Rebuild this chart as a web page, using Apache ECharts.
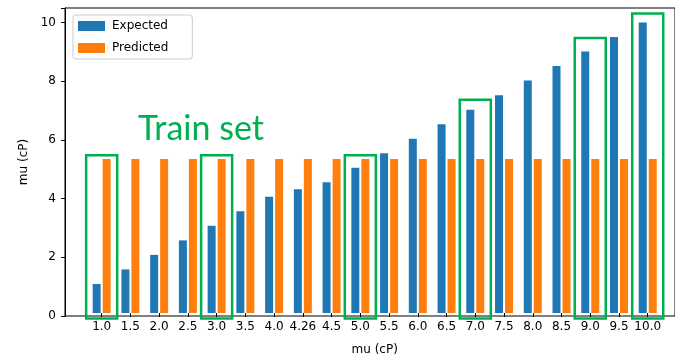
<!DOCTYPE html>
<html>
<head>
<meta charset="utf-8">
<script src="https://cdn.jsdelivr.net/npm/echarts@6/dist/echarts.min.js"></script>
<style>
html,body{margin:0;padding:0;background:#fff;}
#chart{width:675px;height:361px;}
</style>
</head>
<body>
<div id="chart"></div>
<script>
const categories = ['1.0','1.5','2.0','2.5','3.0','3.5','4.0','4.26','4.5','5.0','5.5','6.0','6.5','7.0','7.5','8.0','8.5','9.0','9.5','10.0'];
const expected = [1.0,1.5,2.0,2.5,3.0,3.5,4.0,4.26,4.5,5.0,5.5,6.0,6.5,7.0,7.5,8.0,8.5,9.0,9.5,10.0];
const predicted = [5.3,5.3,5.3,5.3,5.3,5.3,5.3,5.3,5.3,5.3,5.3,5.3,5.3,5.3,5.3,5.3,5.3,5.3,5.3,5.3];
const yTicks = [0,2,4,6,8,10];
const boxCats = ['1.0','3.0','5.0','7.0','9.0','10.0'];
const boxTops = [5.43,5.43,5.43,7.34,9.47,10.31];
const boxBottom = -0.19;
const annotation = 'Train set';

const font = 'DejaVu Sans';
const chart = echarts.init(document.getElementById('chart'), null, {renderer:'canvas'});
const boxData = boxCats.map((c,i)=>[c, boxTops[i], boxBottom]);

chart.setOption({
  animation:false,
  backgroundColor:'#fff',
  textStyle:{fontFamily:font},
  grid:[
    {left:65, right:-20, top:8, bottom:45, show:true, borderColor:'#000', borderWidth:1, backgroundColor:'transparent'},
    {left:87.3, right:12.9, top:8, bottom:45, show:false}
  ],
  legend:{
    orient:'vertical', left:73, top:15,
    icon:'rect',
    itemWidth:27, itemHeight:10, itemGap:10,
    padding:[5,24,5,5],
    borderColor:'#cccccc', borderWidth:1, borderRadius:3,
    backgroundColor:'rgba(255,255,255,0.8)',
    textStyle:{fontFamily:font, fontSize:12, color:'#000', padding:[0,0,0,2]},
    data:['Expected','Predicted']
  },
  xAxis:[
    {gridIndex:0, type:'value', min:0, max:1, show:false},
    {gridIndex:1, type:'category', data:categories, boundaryGap:true,
     axisLine:{show:false},
     axisTick:{show:true, alignWithLabel:true, length:4, lineStyle:{color:'#000'}},
     axisLabel:{interval:0, fontFamily:font, fontSize:12, color:'#000', margin:8},
     name:'mu (cP)', nameLocation:'middle', nameGap:31,
     nameTextStyle:{fontFamily:font, fontSize:12, color:'#000'}}
  ],
  yAxis:[
    {gridIndex:0, type:'value', min:0, max:10.5, interval:2,
     axisLine:{show:true, lineStyle:{color:'#000'}},
     axisTick:{show:true, length:4, lineStyle:{color:'#000'}},
     axisLabel:{fontFamily:font, fontSize:12, color:'#000', margin:9,
       customValues: yTicks},
     splitLine:{show:false},
     name:'mu (cP)', nameLocation:'middle', nameGap:33, nameRotate:90,
     nameTextStyle:{fontFamily:font, fontSize:12, color:'#000'}},
    {gridIndex:1, type:'value', min:0, max:10.5, show:false}
  ],
  graphic:[
    {type:'text', left:138, top:112, z:100,
     style:{text:annotation, fill:'#00b050', font:'34px Lato'}}
  ],
  series:[
    {name:'Expected', type:'bar', xAxisIndex:1, yAxisIndex:1, data:expected,
     barWidth:8, barGap:'25%', itemStyle:{color:'#1f77b4'}},
    {name:'Predicted', type:'bar', xAxisIndex:1, yAxisIndex:1, data:predicted,
     barWidth:8, barGap:'25%', itemStyle:{color:'#ff7f0e'}},
    {type:'custom', xAxisIndex:1, yAxisIndex:1, data:boxData, z:10, clip:false,
     renderItem:function(params, api){
       const top = api.coord([api.value(0), api.value(1)]);
       const bot = api.coord([api.value(0), api.value(2)]);
       const bw = api.size([1,0])[0];
       const half = bw*0.54;
       return {type:'rect', shape:{x:top[0]-half, y:top[1], width:half*2, height:bot[1]-top[1]},
         style:{fill:'none', stroke:'#00b050', lineWidth:2.5}};
     }}
  ]
});
</script>
</body>
</html>
